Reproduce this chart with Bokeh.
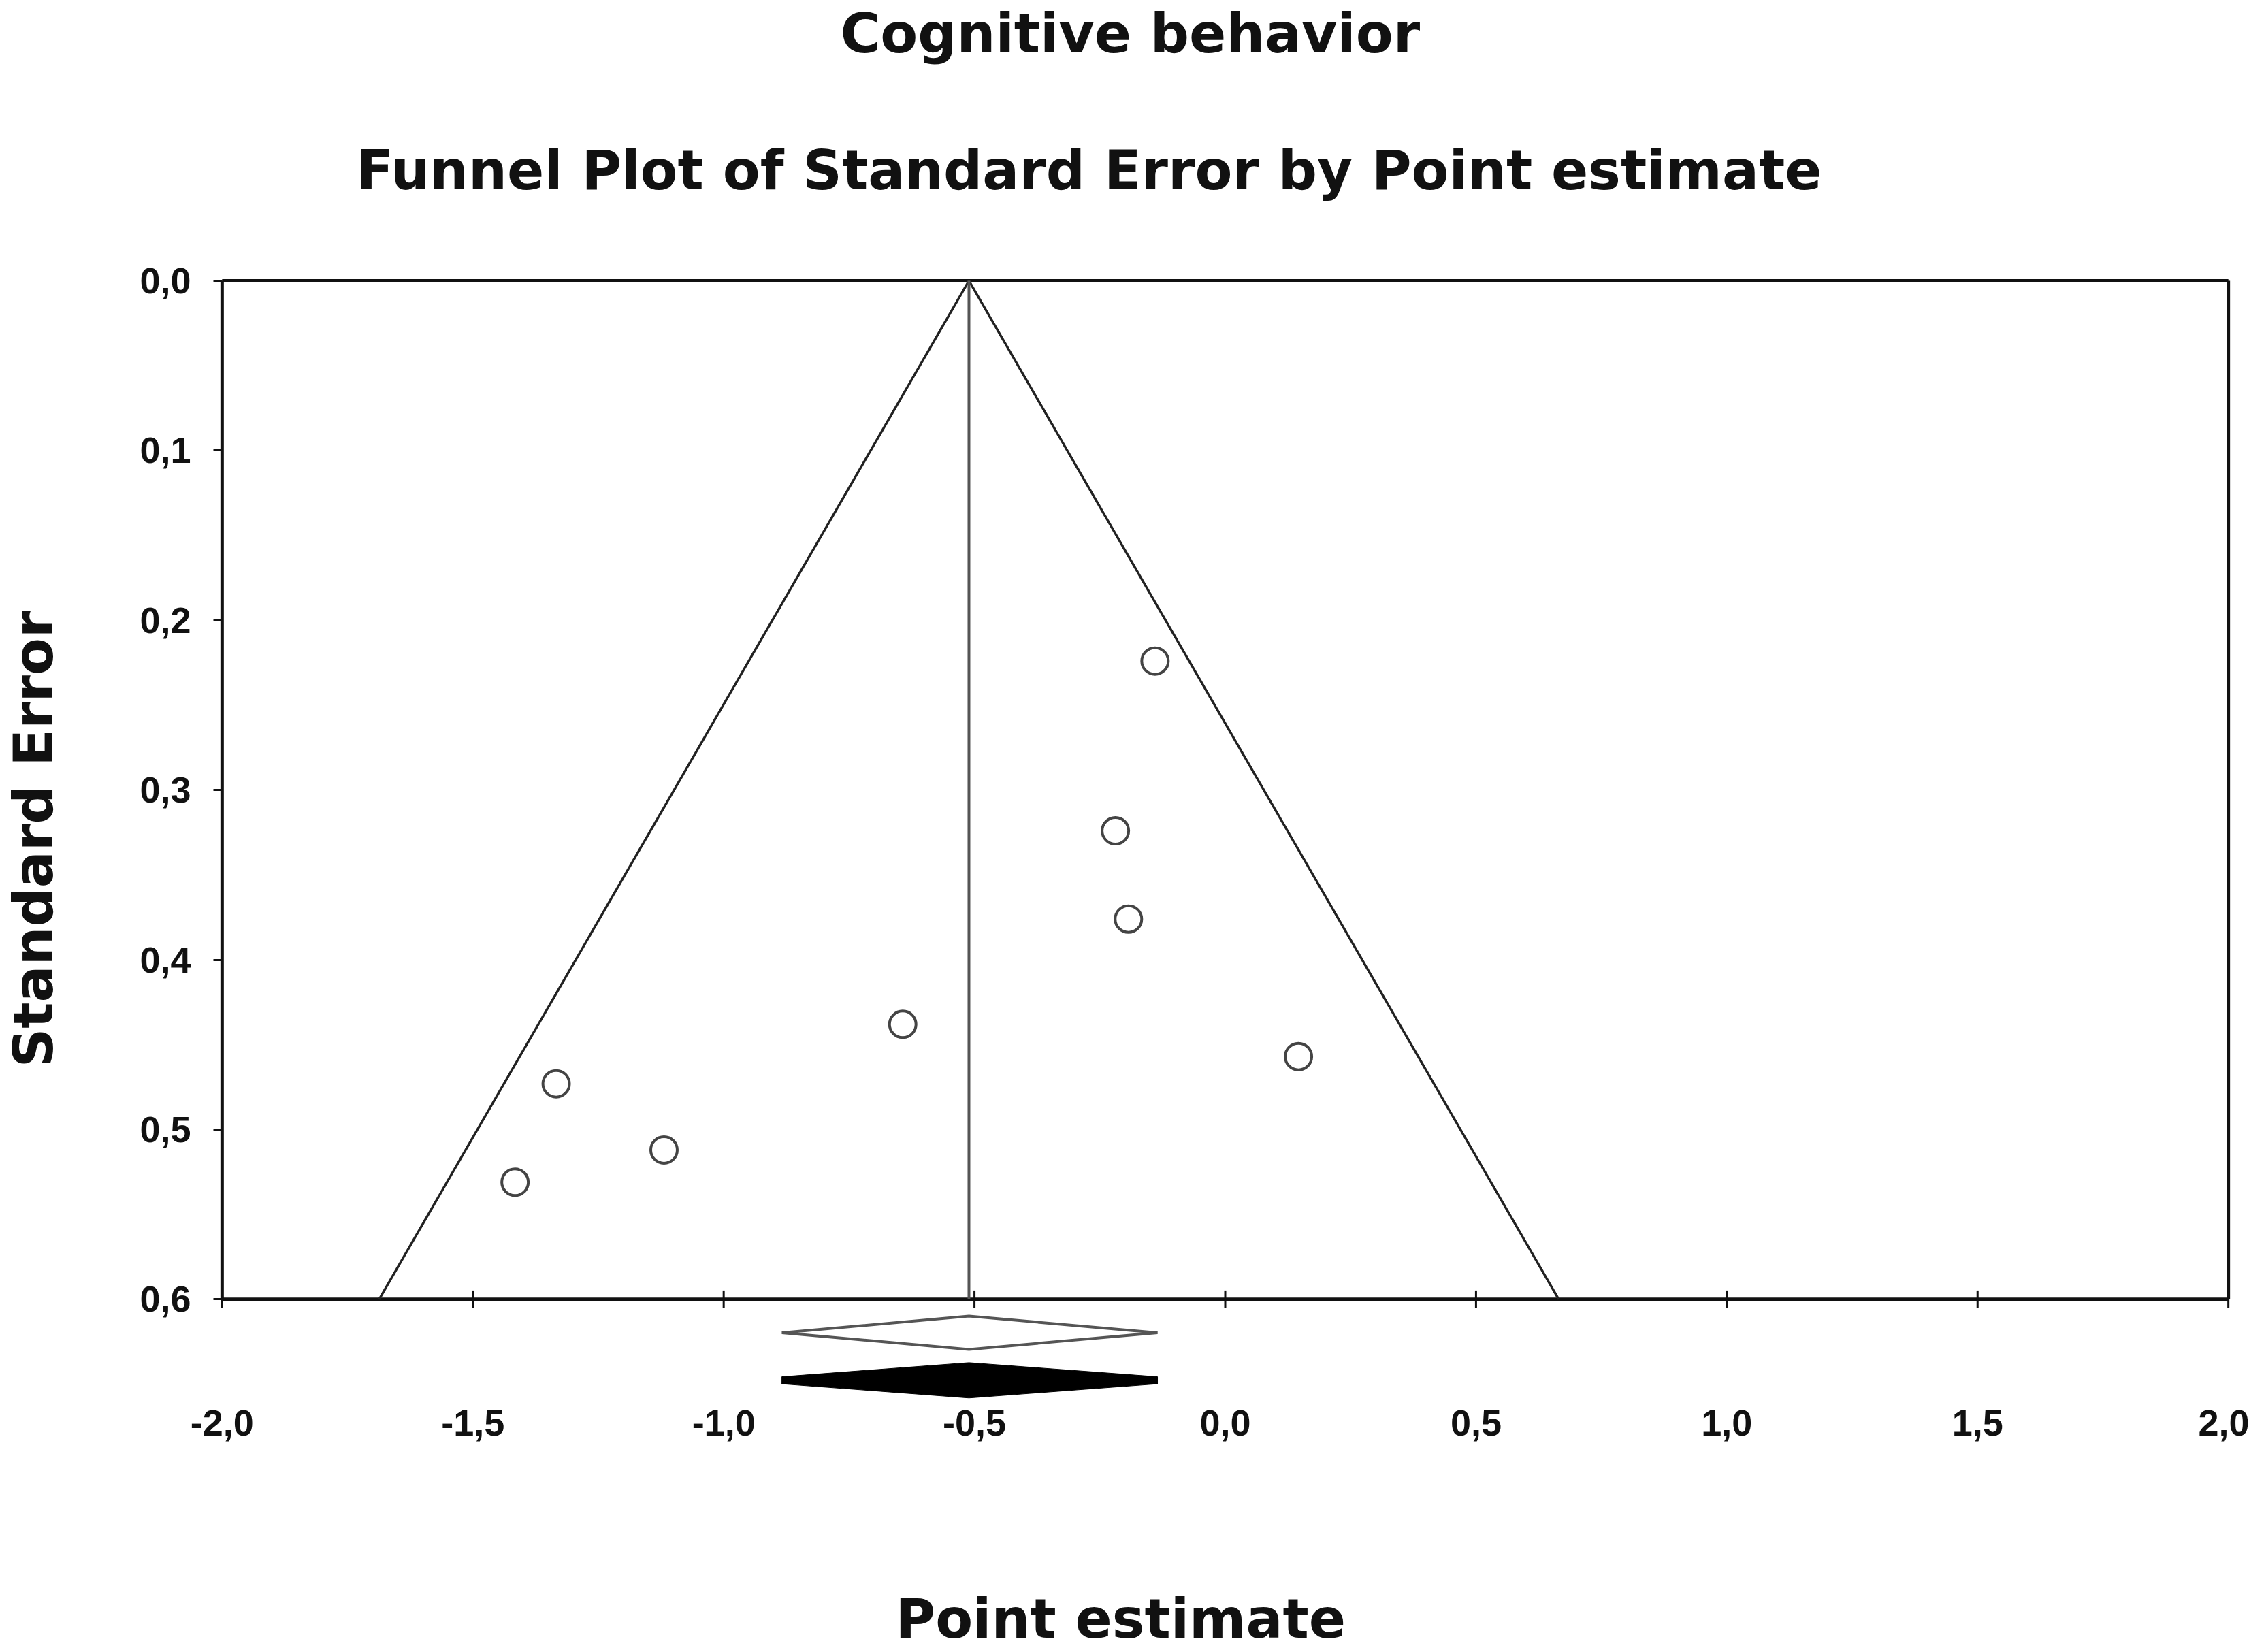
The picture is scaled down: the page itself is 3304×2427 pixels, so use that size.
from bokeh.plotting import figure
from bokeh.models import Range1d, FixedTicker, Title
from bokeh.embed import file_html
from bokeh.resources import INLINE

# ---- data ----
point_estimate = [-0.140, -0.219, -0.193, -0.643, 0.146, -1.334, -1.119, -1.416]
standard_error = [0.224, 0.324, 0.376, 0.438, 0.457, 0.473, 0.512, 0.531]

observed_effect = -0.511
observed_ci = [-0.884, -0.135]
adjusted_effect = -0.511
adjusted_ci = [-0.884, -0.135]

x_ticks = [-2.0, -1.5, -1.0, -0.5, 0.0, 0.5, 1.0, 1.5, 2.0]
x_tick_labels = ["-2,0", "-1,5", "-1,0", "-0,5", "0,0", "0,5", "1,0", "1,5", "2,0"]
y_ticks = [0.0, 0.1, 0.2, 0.3, 0.4, 0.5, 0.6]
y_tick_labels = ["0,0", "0,1", "0,2", "0,3", "0,4", "0,5", "0,6"]

title_main = "Cognitive behavior"
title_sub = "Funnel Plot of Standard Error by Point estimate"
x_label = "Point estimate"
y_label = "Standard Error"

x_min, x_max = x_ticks[0], x_ticks[-1]
se_max = y_ticks[-1]

# ---- figure ----
W, H = 3304, 2427
p = figure(width=W, height=H, output_backend="svg", toolbar_location=None, title=None,
           x_range=Range1d(-2.012, 2.012), y_range=Range1d(0.662, -0.004),
           min_border_left=317, min_border_right=22,
           min_border_top=399, min_border_bottom=364)
p.grid.visible = False
p.outline_line_color = None
p.background_fill_color = "white"
p.border_fill_color = "white"

TICK_FONT = "Liberation Sans"
TEXT_FONT = "DejaVu Sans"
TEXT_SIZE = "80px"
INK = "#111111"

# y axis
ya = p.yaxis[0]
ya.ticker = FixedTicker(ticks=y_ticks)
ya.major_label_overrides = {t: l for t, l in zip(y_ticks, y_tick_labels)}
ya.axis_line_color = None
ya.major_tick_out = 4
ya.major_tick_in = 9
ya.minor_tick_out = 0
ya.minor_tick_in = 0
ya.major_tick_line_width = 3
ya.major_tick_line_color = INK
ya.minor_tick_line_color = None
ya.major_label_standoff = 33
ya.major_label_text_font = TICK_FONT
ya.major_label_text_font_style = "bold"
ya.major_label_text_font_size = "54px"
ya.major_label_text_color = INK
ya.axis_label = y_label
ya.axis_label_standoff = 106
ya.axis_label_text_font = TEXT_FONT
ya.axis_label_text_font_style = "bold"
ya.axis_label_text_font_size = TEXT_SIZE
ya.axis_label_text_color = INK

# x axis
xa = p.xaxis[0]
xa.ticker = FixedTicker(ticks=x_ticks)
xa.major_label_overrides = {t: l for t, l in zip(x_ticks, x_tick_labels)}
xa.axis_line_color = None
xa.major_tick_line_color = None
xa.minor_tick_line_color = None
xa.major_tick_out = 0
xa.major_tick_in = 0
xa.minor_tick_out = 0
xa.minor_tick_in = 0
xa.major_label_standoff = 8
xa.major_label_text_font = TICK_FONT
xa.major_label_text_font_style = "bold"
xa.major_label_text_font_size = "54px"
xa.major_label_text_color = INK


def title(text, offset, standoff=0, valign="bottom", pad_top=0):
    kw = dict(text=text, align="left", offset=offset, standoff=standoff, vertical_align=valign,
              text_font=TEXT_FONT, text_font_style="bold", text_font_size=TEXT_SIZE,
              text_color=INK)
    if pad_top:
        try:
            return Title(padding=dict(left=0, right=0, top=pad_top, bottom=0), **kw)
        except Exception:
            pass
    return Title(**kw)


# above: closest to the frame first
p.add_layout(title(title_sub, 206, standoff=212), "above")
p.add_layout(title(title_main, 917, standoff=0), "above")

# below the tick labels
p.add_layout(title(x_label, 998, standoff=0, valign="top", pad_top=220), "below")

# frame box drawn at the axis limits
p.segment(x0=[x_min, x_min, x_max, x_min], y0=[0, 0, 0, se_max],
          x1=[x_max, x_min, x_max, x_max], y1=[0, se_max, se_max, se_max],
          line_color=INK, line_width=5)

# x tick marks crossing the bottom line
tick_half = 0.0052
p.segment(x0=x_ticks, y0=[se_max - tick_half] * len(x_ticks),
          x1=x_ticks, y1=[se_max + tick_half] * len(x_ticks),
          line_color=INK, line_width=3)

# funnel (95% pseudo-confidence limits)
half = 1.96 * se_max
p.line([observed_effect - half, observed_effect, observed_effect + half],
       [se_max, 0, se_max], line_color="#222222", line_width=3.5)
p.segment(x0=[observed_effect], y0=[0], x1=[observed_effect], y1=[se_max],
          line_color="#555555", line_width=4)

# studies
p.scatter(point_estimate, standard_error, marker="circle", size=39,
          fill_color=None, line_color="#444444", line_width=4)

# observed summary diamond (open)
yc1, h1 = 0.6197, 0.0098
p.patch([observed_ci[0], observed_effect, observed_ci[1], observed_effect],
        [yc1, yc1 - h1, yc1, yc1 + h1],
        fill_color=None, line_color="#555555", line_width=4)

# adjusted summary diamond (filled)
yc2, h2, t2 = 0.6477, 0.0104, 0.0021
p.patch([adjusted_ci[0], adjusted_effect, adjusted_ci[1], adjusted_ci[1], adjusted_effect, adjusted_ci[0]],
        [yc2 - t2, yc2 - h2, yc2 - t2, yc2 + t2, yc2 + h2, yc2 + t2],
        fill_color="black", line_color="black", line_width=1)

open("out.html", "w").write(file_html(p, INLINE))
